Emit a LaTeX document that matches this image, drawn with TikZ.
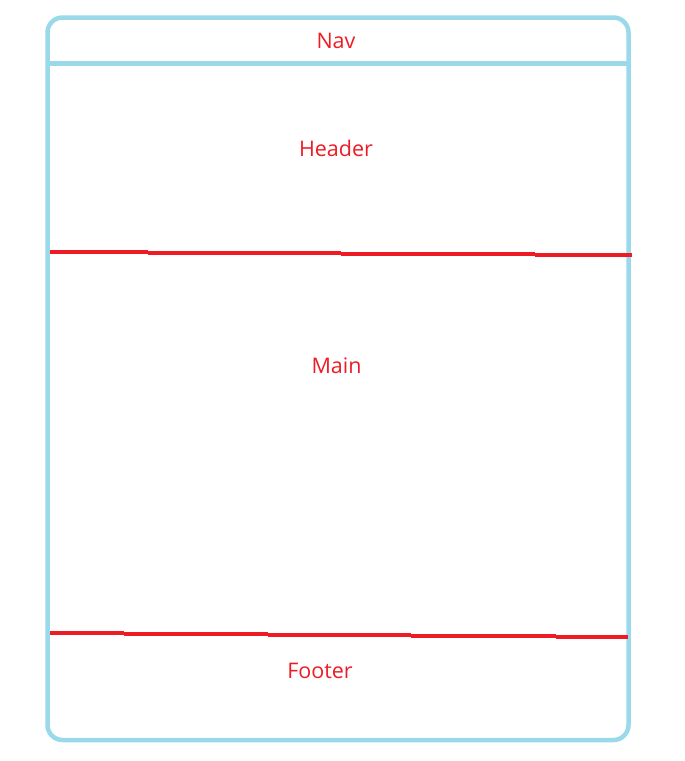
\documentclass[tikz,border=0pt]{standalone}
\usepackage{fontspec}
\setmainfont{Open Sans}
\definecolor{frameblue}{RGB}{153,217,234}
\definecolor{markred}{RGB}{237,28,36}
\begin{document}
\begin{tikzpicture}[x=1pt,y=-1pt,
  frame/.style={draw=frameblue,line width=4.5pt},
  redline/.style={draw=markred,line width=4.5pt},
  label/.style={text=markred,font=\fontsize{21.5}{24}\selectfont,anchor=base,inner sep=0pt}]
\useasboundingbox (0,0) rectangle (685,761);
\draw[frame,rounded corners=15pt] (47.5,17.5) rectangle (628.5,740);
\draw[frame] (47.5,63.5) -- (628.5,63.5);
% header/main divider
\draw[redline] (50,252) -- (148,252);
\draw[redline] (148,253) -- (341,253);
\draw[redline] (341,254) -- (535,254);
\draw[redline] (535,255) -- (632,255);
% main/footer divider
\draw[redline] (50,633) -- (124,633);
\draw[redline] (124,634) -- (268,634);
\draw[redline] (268,635) -- (411,635);
\draw[redline] (411,636) -- (556,636);
\draw[redline] (556,637) -- (628,637);
\node[label] (nav) at (336,48.5) {Nav};
\node[label] (header) at (336,156.5) {Header};
\node[label] (main) at (336.5,373) {Main};
\node[label] (footer) at (320,678.5) {Footer};
\end{tikzpicture}
\end{document}
